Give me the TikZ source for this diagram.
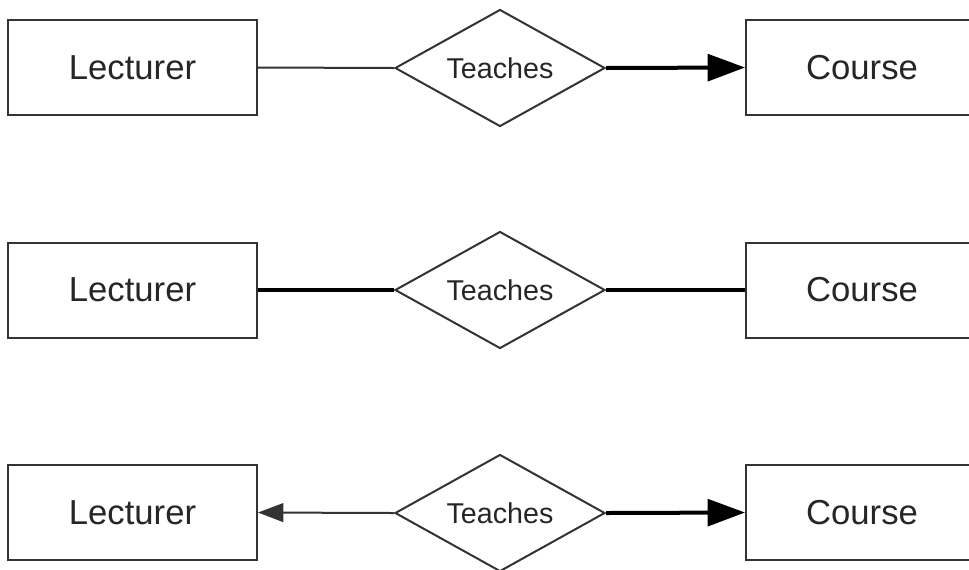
\documentclass[tikz,border=0pt]{standalone}
\usepackage{fontspec}
\setmainfont{Liberation Sans}
\usetikzlibrary{shapes.geometric,arrows.meta}
\definecolor{ink}{HTML}{333333}
\definecolor{label}{HTML}{262626}
\begin{document}
\begin{tikzpicture}[x=0.75pt,y=-0.75pt,
  entity/.style={draw=ink,line width=1.5pt,rectangle,minimum width=249*0.75pt,
    minimum height=95*0.75pt,inner sep=0pt,text=label,font=\fontsize{26}{30}\selectfont},
  wideentity/.style={entity,minimum width=232*0.75pt},
  relation/.style={draw=ink,line width=1.5pt,diamond,shape aspect=1.795,
    minimum width=210*0.75pt,minimum height=117*0.75pt,inner sep=0pt,
    text=label,font=\fontsize{21.5}{25}\selectfont},
  thinlink/.style={draw=ink,line width=1.5pt},
  thicklink/.style={draw=black,line width=3pt},
  bigtip/.style={-{Triangle[length=28pt,width=20pt]}},
  smalltip/.style={-{Triangle[length=19pt,width=14pt]}}]
\useasboundingbox (0,0) rectangle (969,569);
\clip (0,0) rectangle (969,569);

% row 1: many-to-one
\node[entity]     (l1) at (132.5,67.5) {Lecturer};
\node[relation]   (r1) at (500,68)     {Teaches};
\node[wideentity] (c1) at (862,67.5)   {Course};
\draw[thinlink] (l1.east) -- (r1.west);
\draw[thicklink,bigtip] (r1.east) -- (c1.west);

% row 2: total participation on both sides
\node[entity]     (l2) at (132.5,290) {Lecturer};
\node[relation]   (r2) at (500,290)   {Teaches};
\node[wideentity] (c2) at (862,290)   {Course};
\draw[thicklink] (l2.east) -- (r2.west);
\draw[thicklink] (r2.east) -- (c2.west);

% row 3: one-to-one
\node[entity]     (l3) at (132.5,512.5) {Lecturer};
\node[relation]   (r3) at (500,513)     {Teaches};
\node[wideentity] (c3) at (862,512.5)   {Course};
\draw[thinlink,smalltip] (r3.west) -- (l3.east);
\draw[thicklink,bigtip] (r3.east) -- (c3.west);
\end{tikzpicture}
\end{document}
